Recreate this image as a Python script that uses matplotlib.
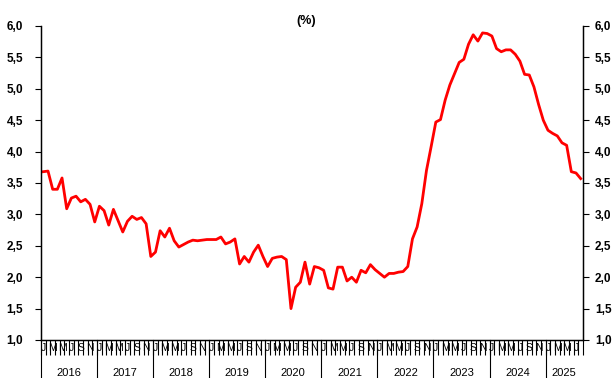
import matplotlib
matplotlib.use("Agg")
import matplotlib.pyplot as plt
from matplotlib.lines import Line2D
from matplotlib.ticker import FuncFormatter, MultipleLocator
import numpy as np

plt.rcParams["font.family"] = ["Liberation Sans", "DejaVu Sans"]

# monthly series, Jan 2016 .. Aug 2025
rate = [
    3.68, 3.69, 3.40, 3.40, 3.58, 3.09, 3.26, 3.29, 3.20, 3.24, 3.16, 2.88,  # 2016
    3.13, 3.06, 2.83, 3.08, 2.90, 2.72, 2.89, 2.97, 2.92, 2.95, 2.85, 2.33,  # 2017
    2.40, 2.74, 2.64, 2.78, 2.58, 2.48, 2.52, 2.56, 2.59, 2.58, 2.59, 2.60,  # 2018
    2.60, 2.60, 2.64, 2.53, 2.56, 2.61, 2.21, 2.33, 2.24, 2.40, 2.51, 2.33,  # 2019
    2.17, 2.30, 2.32, 2.33, 2.28, 1.50, 1.84, 1.92, 2.24, 1.89, 2.17, 2.15,  # 2020
    2.11, 1.83, 1.81, 2.16, 2.16, 1.94, 2.00, 1.92, 2.11, 2.07, 2.20, 2.12,  # 2021
    2.06, 2.00, 2.06, 2.06, 2.08, 2.09, 2.17, 2.61, 2.80, 3.17, 3.70, 4.08,  # 2022
    4.47, 4.51, 4.82, 5.06, 5.24, 5.42, 5.47, 5.71, 5.86, 5.76, 5.89, 5.88,  # 2023
    5.84, 5.64, 5.59, 5.62, 5.62, 5.55, 5.44, 5.23, 5.22, 5.03, 4.75, 4.50,  # 2024
    4.34, 4.29, 4.25, 4.14, 4.10, 3.68, 3.66, 3.57,                          # 2025
]
years = [2016, 2017, 2018, 2019, 2020, 2021, 2022, 2023, 2024, 2025]
month_letters = ["J", "F", "M", "A", "M", "J", "J", "A", "S", "O", "N", "D"]
title = "(%)"

n = len(rate)
x = np.arange(n)

fig = plt.figure(figsize=(6.12, 3.78), dpi=100)
ax = fig.add_axes([41 / 612, 1 - 340 / 378, 542 / 612, 314 / 378])

ax.plot(x, rate, color="#ff0000", lw=2.0, solid_joinstyle="round")

ax.set_xlim(-0.5, n - 0.5)
ax.set_ylim(1.0, 6.0)
comma = FuncFormatter(lambda v, _: f"{v:.1f}".replace(".", ","))

ax.spines["top"].set_visible(False)
for s in ("left", "right", "bottom"):
    ax.spines[s].set_linewidth(1.0)
    ax.spines[s].set_color("black")

# same scale on both sides, each with its own label spacing
ax_r = ax.twinx()
ax_r.set_ylim(ax.get_ylim())
ax_r.spines["top"].set_visible(False)
for a, pad in ((ax, 9), (ax_r, 4.5)):
    a.yaxis.set_major_locator(MultipleLocator(0.5))
    a.yaxis.set_major_formatter(comma)
    a.tick_params(axis="y", direction="out", length=4, width=0.8,
                  labelsize=8.5, pad=pad)
    for lab in a.get_yticklabels():
        lab.set_fontweight("bold")

# one tick per month boundary, letters every other month
ax.set_xticks(np.arange(-0.5, n, 1.0))
ax.set_xticklabels([])
ax.tick_params(axis="x", direction="out", length=11, width=0.8)

for i in range(0, n, 2):
    ax.text(i, -0.008, month_letters[i % 12], transform=ax.get_xaxis_transform(),
            ha="center", va="top", fontsize=7.5, clip_on=False)

# year separators and labels
sep_depth = -38 / 314
for k, yr in enumerate(years):
    start = k * 12 - 0.5
    end = min(start + 12, n - 0.5)
    ax.add_line(Line2D([start, start], [0, sep_depth], transform=ax.get_xaxis_transform(),
                       color="black", lw=0.8, clip_on=False))
    ax.text((start + end) / 2, -0.105, str(yr), transform=ax.get_xaxis_transform(),
            ha="center", va="center", fontsize=8, clip_on=False)

fig.text(306 / 612, 1 - 21 / 378, title, ha="center", va="center",
         fontsize=9, fontweight="bold")

fig.savefig("out.png", dpi=100)
